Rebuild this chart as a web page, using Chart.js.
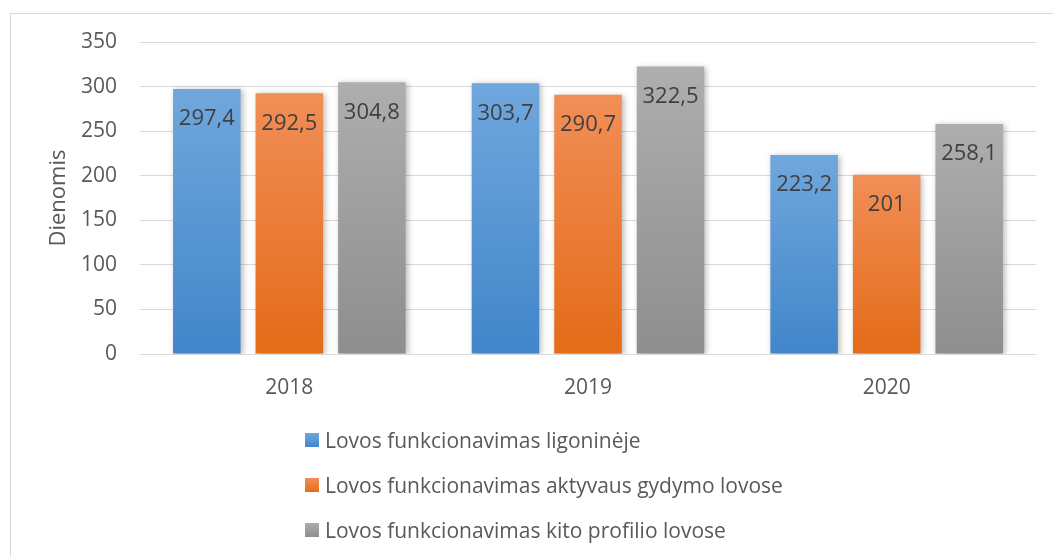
<!DOCTYPE html>
<html>
<head>
<meta charset="utf-8">
<script src="https://cdn.jsdelivr.net/npm/chart.js@4.4.0/dist/chart.umd.min.js"></script>
<style>
  html, body { margin: 0; padding: 0; background: #fff; }
  #wrap { position: relative; width: 1053px; height: 557px; overflow: hidden; background: #fff; }
  #frame { position: absolute; left: 10px; top: 13px; width: 1060px; height: 600px; border: 1px solid #d9d9d9; box-sizing: border-box; }
  #c { position: absolute; left: 0; top: 0; }
  #legend { position: absolute; left: 305px; top: 417px; font-family: "Open Sans", sans-serif; font-size: 21px; color: #595959; }
  .li { display: flex; align-items: center; height: 45px; white-space: nowrap; }
  .sw { width: 14px; height: 14px; margin-right: 6px; }
</style>
</head>
<body>
<div id="wrap">
  <div id="frame"></div>
  <canvas id="c" width="1053" height="557"></canvas>
  <div id="legend"></div>
</div>
<script>
const categories = ["2018", "2019", "2020"];
const seriesNames = [
  "Lovos funkcionavimas ligoninėje",
  "Lovos funkcionavimas aktyvaus gydymo lovose",
  "Lovos funkcionavimas kito profilio lovose"
];
const hospitalValues = [297.4, 303.7, 223.2];
const activeValues = [292.5, 290.7, 201];
const otherValues = [304.8, 322.5, 258.1];
const yTicks = [0, 50, 100, 150, 200, 250, 300, 350];
const yTitle = "Dienomis";

const gradStops = [
  ["#70a7dd", "#4186ca"],
  ["#f18e57", "#e46b18"],
  ["#aeaeae", "#8e8e8e"]
];

function barGradient(idx) {
  return function(ctx) {
    const chart = ctx.chart;
    const ys = chart.scales && chart.scales.y;
    if (!ys || ctx.type !== 'data') return gradStops[idx][1];
    const top = ys.getPixelForValue(ctx.raw);
    const bottom = ys.getPixelForValue(0);
    if (!isFinite(top) || !isFinite(bottom) || top === bottom) return gradStops[idx][1];
    const g = chart.ctx.createLinearGradient(0, top, 0, bottom);
    g.addColorStop(0, gradStops[idx][0]);
    g.addColorStop(1, gradStops[idx][1]);
    return g;
  };
}

function fmt(v) { return String(v).replace('.', ','); }

const shadowPlugin = {
  id: 'shadow',
  beforeDatasetsDraw(chart) {
    const c = chart.ctx;
    c.save();
    c.shadowColor = 'rgba(0,0,0,0.28)';
    c.shadowBlur = 6;
    c.shadowOffsetX = 2;
    c.shadowOffsetY = 1;
  },
  afterDatasetsDraw(chart) {
    chart.ctx.restore();
  }
};

const labelPlugin = {
  id: 'barLabels',
  afterDatasetsDraw(chart) {
    const c = chart.ctx;
    c.save();
    c.font = '22px "Open Sans", sans-serif';
    c.fillStyle = '#404040';
    c.textAlign = 'center';
    c.textBaseline = 'middle';
    chart.data.datasets.forEach((ds, i) => {
      const meta = chart.getDatasetMeta(i);
      meta.data.forEach((bar, j) => {
        c.fillText(fmt(ds.data[j]), bar.x, bar.y + 30);
      });
    });
    c.restore();
  }
};

const seriesData = [hospitalValues, activeValues, otherValues];

new Chart(document.getElementById('c'), {
  type: 'bar',
  data: {
    labels: categories,
    datasets: seriesData.map((d, i) => ({
      label: seriesNames[i],
      data: d,
      backgroundColor: barGradient(i),
      borderWidth: 0,
      categoryPercentage: 0.829,
      barPercentage: 0.818
    }))
  },
  options: {
    responsive: false,
    animation: false,
    events: [],
    layout: { padding: { left: 10, right: 17, top: 42, bottom: 0 } },
    plugins: { legend: { display: false }, tooltip: { enabled: false } },
    scales: {
      x: {
        grid: { display: false, drawTicks: false },
        border: { display: false },
        ticks: { color: '#595959', font: { family: 'Open Sans', size: 21 }, padding: 21 },
        afterFit(s) { s.height = 203; }
      },
      y: {
        min: 0, max: 350,
        afterBuildTicks(s) { s.ticks = yTicks.map(v => ({ value: v })); },
        grid: { color: '#d9d9d9', lineWidth: 1, drawTicks: false },
        border: { display: false },
        ticks: { color: '#595959', font: { family: 'Open Sans', size: 21 }, padding: 23 },
        title: { display: true, text: yTitle, color: '#595959', font: { family: 'Open Sans', size: 22 }, padding: { top: 36, bottom: 0 } },
        afterFit(s) { s.width = 130; }
      }
    }
  },
  plugins: [shadowPlugin, labelPlugin]
});

const leg = document.getElementById('legend');
seriesNames.forEach((n, i) => {
  const row = document.createElement('div');
  row.className = 'li';
  const sw = document.createElement('div');
  sw.className = 'sw';
  sw.style.background = 'linear-gradient(' + gradStops[i][0] + ',' + gradStops[i][1] + ')';
  const t = document.createElement('span');
  t.textContent = n;
  row.appendChild(sw);
  row.appendChild(t);
  leg.appendChild(row);
});
</script>
</body>
</html>
